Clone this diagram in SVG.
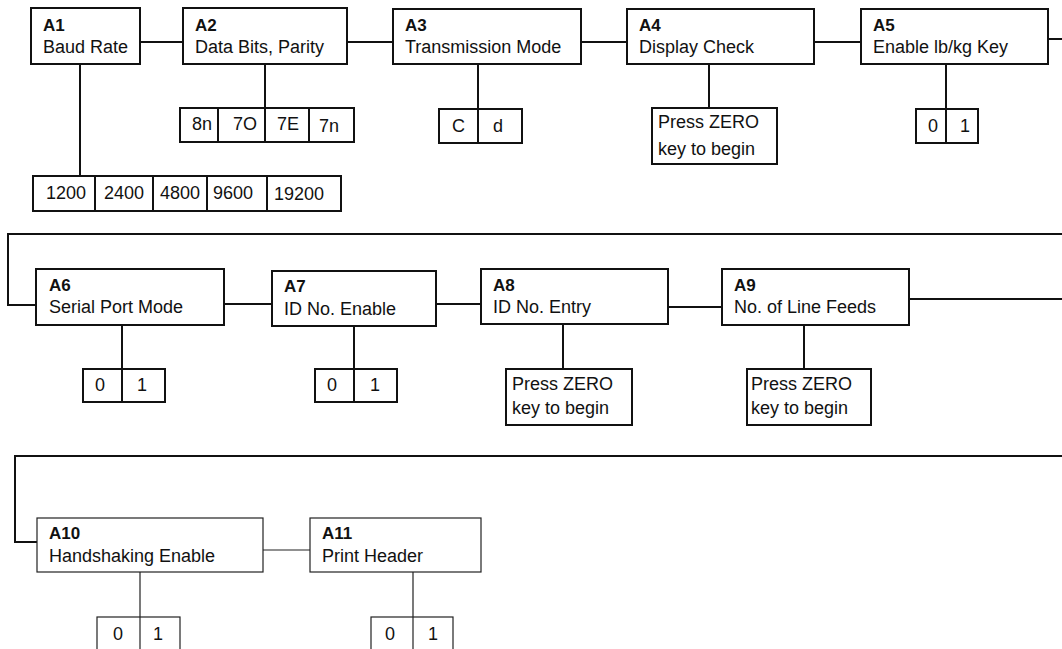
<svg xmlns="http://www.w3.org/2000/svg" width="1062" height="649" viewBox="0 0 1062 649">
<style>
.bx{fill:#fff;stroke:#111;stroke-width:2}
.bt{fill:#fff;stroke:#222;stroke-width:1.2}
.ln{fill:none;stroke:#111;stroke-width:2}
.lt{fill:none;stroke:#222;stroke-width:1.2}
text{font-family:"Liberation Sans",Arial,sans-serif;font-size:18px;fill:#111}
.t{font-weight:bold;font-size:17px}
</style>
<rect width="1062" height="649" fill="#fff"/>
<g id="connectors">
<path class="ln" d="M140 42H183M347 42H393M581 42H627M814 42H861M1048 39H1062"/>
<path class="ln" d="M80 64V176M265 64V108M478 64V109M709 64V108M946 64V109"/>
<path class="ln" d="M1062 234H8V305H36"/>
<path class="ln" d="M224 304H272M436 304H481M668 307H722M909 299H1062"/>
<path class="ln" d="M122 325V369M354 326V369M563 324V369M804 325V369"/>
<path class="ln" d="M1062 456H15V542H37"/>
<path class="lt" d="M263 550H310M140 572V649M413 572V649"/>
</g>
<g id="A1"><rect class="bx" x="31" y="8" width="109" height="56"/><text class="t" x="43" y="31">A1</text><text x="43" y="53">Baud Rate</text></g>
<g id="A1-options"><rect class="bx" x="33" y="176" width="308" height="35"/><path class="ln" d="M95 176V211M153 176V211M207 176V211M267 176V211"/>
<text x="46" y="199">1200</text><text x="104" y="199">2400</text><text x="160" y="199">4800</text><text x="213" y="199">9600</text><text x="274" y="200">19200</text></g>
<g id="A2"><rect class="bx" x="183" y="8" width="164" height="56"/><text class="t" x="195" y="31">A2</text><text x="195" y="53">Data Bits, Parity</text></g>
<g id="A2-options"><rect class="bx" x="180" y="108" width="174" height="34"/><path class="ln" d="M218 108V142M265 108V142M309 108V142"/>
<text x="192" y="130">8n</text><text x="233" y="130">7O</text><text x="277" y="130">7E</text><text x="319" y="132">7n</text></g>
<g id="A3"><rect class="bx" x="393" y="9" width="188" height="55"/><text class="t" x="405" y="31">A3</text><text x="405" y="53">Transmission Mode</text></g>
<g id="A3-options"><rect class="bx" x="439" y="109" width="83" height="34"/><path class="ln" d="M478 109V143"/><text x="452" y="132">C</text><text x="493" y="132">d</text></g>
<g id="A4"><rect class="bx" x="627" y="9" width="187" height="55"/><text class="t" x="639" y="31">A4</text><text x="639" y="53">Display Check</text></g>
<g id="A4-note"><rect class="bx" x="652" y="108" width="125" height="56"/><text x="658" y="128">Press ZERO</text><text x="658" y="155">key to begin</text></g>
<g id="A5"><rect class="bx" x="861" y="9" width="187" height="55"/><text class="t" x="873" y="31">A5</text><text x="873" y="53">Enable lb/kg Key</text></g>
<g id="A5-options"><rect class="bx" x="916" y="109" width="62" height="34"/><path class="ln" d="M946 109V143"/><text x="928" y="132">0</text><text x="960" y="132">1</text></g>
<g id="A6"><rect class="bx" x="36" y="269" width="188" height="56"/><text class="t" x="49" y="291">A6</text><text x="49" y="313">Serial Port Mode</text></g>
<g id="A6-options"><rect class="bx" x="83" y="369" width="82" height="33"/><path class="ln" d="M122 369V402"/><text x="95" y="391">0</text><text x="137" y="391">1</text></g>
<g id="A7"><rect class="bx" x="272" y="271" width="164" height="55"/><text class="t" x="284" y="292">A7</text><text x="284" y="315">ID No. Enable</text></g>
<g id="A7-options"><rect class="bx" x="315" y="369" width="82" height="33"/><path class="ln" d="M354 369V402"/><text x="327" y="391">0</text><text x="370" y="391">1</text></g>
<g id="A8"><rect class="bx" x="481" y="269" width="187" height="55"/><text class="t" x="493" y="291">A8</text><text x="493" y="313">ID No. Entry</text></g>
<g id="A8-note"><rect class="bx" x="506" y="369" width="126" height="56"/><text x="512" y="390">Press ZERO</text><text x="512" y="414">key to begin</text></g>
<g id="A9"><rect class="bx" x="722" y="269" width="187" height="56"/><text class="t" x="734" y="291">A9</text><text x="734" y="313">No. of Line Feeds</text></g>
<g id="A9-note"><rect class="bx" x="747" y="369" width="124" height="56"/><text x="751" y="390">Press ZERO</text><text x="751" y="414">key to begin</text></g>
<g id="A10"><rect class="bt" x="37" y="518" width="226" height="54"/><text class="t" x="49" y="539">A10</text><text x="49" y="562">Handshaking Enable</text></g>
<g id="A10-options"><rect class="bt" x="97" y="617" width="83" height="40"/><path class="lt" d="M140 617V649"/><text x="113" y="640">0</text><text x="153" y="640">1</text></g>
<g id="A11"><rect class="bt" x="310" y="518" width="171" height="54"/><text class="t" x="322" y="539">A11</text><text x="322" y="562">Print Header</text></g>
<g id="A11-options"><rect class="bt" x="371" y="617" width="82" height="40"/><path class="lt" d="M413 617V649"/><text x="385" y="640">0</text><text x="428" y="640">1</text></g>
</svg>
